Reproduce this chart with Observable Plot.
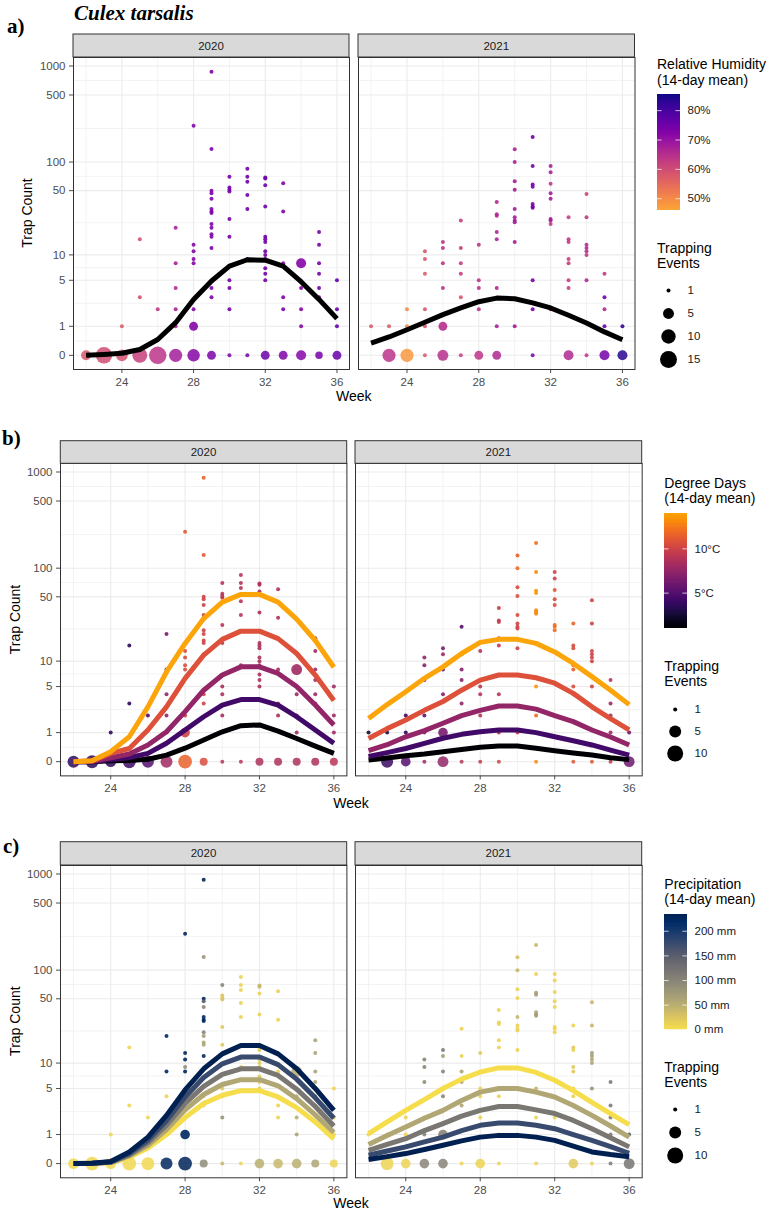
<!DOCTYPE html>
<html><head><meta charset="utf-8">
<script src="https://cdn.jsdelivr.net/npm/d3@7"></script>
<script src="https://cdn.jsdelivr.net/npm/@observablehq/plot@0.6"></script>
<style>
body{margin:0;background:#fff;}
#root{position:relative;width:771px;height:1211px;overflow:hidden;background:#fff;}
#root > svg, #root > figure{position:absolute;margin:0;}
</style></head>
<body><div id="root"></div>
<script>
const FONT = '"Liberation Sans", Arial, Helvetica, sans-serif';
const SERIF = '"Liberation Serif", "Times New Roman", serif';

// ---------- axis ticks ----------
const yTicks = [0, 1, 5, 10, 50, 100, 500, 1000];
const yMinor = [0.41, 2.46, 7.1, 22.7, 70.8, 224, 707];
const xTicks = [24, 28, 32, 36];
const xMinor = [22, 26, 30, 34];
const years = ["2020", "2021"];

// ---------- observations: [week, count, trapping events, RH %, degree days °C, precip mm] ----------
const pts2020 = [
 [24,1,1,57,3.5,5],
 [25,15,1,59,3.5,8],[25,3,1,59,3.5,8],
 [26,2,1,63,4.5,8],
 [27,20,1,67,6.5,220],[27,8,1,67,7,220],[27,4,1,66,7.5,10],[27,2,1,67,7.5,10],[27,1,1,66,7.5,10],
 [28,240,1,72,11,225],[28,13,1,72,10.5,225],[28,11,1,72,10.5,225],[28,9,1,72,10.5,90],[28,8,1,72,10.5,225],[28,2,1,72,10,10],[28,1,3,72,10,225],
 [29,873,1,73,11.5,230],[29,137,1,73,11,80],[29,50,1,73,10,230],[29,47,1,73,10,150],[29,41,1,73,10,100],[29,32,1,73,10,220],[29,30,1,73,10,220],[29,29,1,73,10,220],[29,22,1,73,10,100],[29,20,1,73,10,70],[29,17,1,73,10,60],[29,16,1,73,10,60],[29,12,1,73,10,220],[29,4,1,73,10,10],[29,3,1,73,10,10],
 [30,70,1,74,9,100],[30,54,1,74,9,25],[30,51,1,74,9,25],[30,49,1,74,9,25],[30,25,1,74,9,20],[30,16,1,74,9,20],[30,5,1,74,8.5,20],[30,4,1,74,8.5,20],[30,2,1,74,8.5,80],
 [31,85,1,75,9,10],[31,70,1,75,9,10],[31,62,1,75,9,10],[31,45,1,75,9,10],[31,32,1,75,9,10],[31,9,1,75,9,10],
 [32,69,1,75,8.5,40],[32,67,1,75,8.5,40],[32,57,1,75,8.5,10],[32,34,1,75,8.5,10],[32,16,1,75,8.5,20],[32,15,1,75,8.5,20],[32,14,1,75,8.5,20],[32,11,1,75,8.5,20],[32,10,1,75,8.5,20],[32,9,1,75,8.5,20],[32,7,1,75,8.5,20],[32,6,1,75,8.5,20],[32,5,1,75,8.5,20],
 [33,60,1,73,8.5,10],[33,30,1,73,8.5,10],[33,8,1,73,8.5,10],[33,3,1,73,8.5,10],[33,2,1,73,8.5,10],
 [34,8,4,72,8,50],[34,4,1,72,8,50],[34,2,1,72,8,50],[34,1,1,72,8,60],
 [35,18,1,74,8,60],[35,13,1,74,8,60],[35,8,1,74,8,60],[35,6,1,74,8,60],[35,4,1,74,8,60],[35,3,1,74,8,60],
 [36,5,1,76,8,10],[36,2,1,76,8,10],[36,1,1,76,8,10]
];
const pts2021 = [
 [22,1,1,57,2.5,8],
 [23,1,1,57,3,5],
 [24,2,1,50,4,10],[24,1,1,50,3.5,10],
 [25,11,1,58,7.5,100],[25,9,1,58,7,100],[25,6,1,57,7.5,90],[25,2,1,58,5.5,20],[25,1,1,58,7,100],
 [26,14,1,64,6.5,110],[26,12,1,64,8,70],[26,8,1,64,6,100],[26,4,1,64,7,100],[26,1,3,65,6.5,100],
 [27,24,1,62,5,10],[27,12,1,62,5.5,10],[27,8,1,62,7,60],[27,6,1,62,7,60],[27,3,1,58,7.5,60],
 [28,13,1,64,9,20],[28,5,1,64,9,10],[28,4,1,64,9,10],[28,2,1,64,9,10],
 [29,38,1,66,9.5,10],[29,28,1,66,9.5,10],[29,27,1,66,9.5,10],[29,18,1,66,9.5,10],[29,15,1,66,9.5,10],[29,4,1,66,9,10],[29,1,1,67,9,10],
 [30,136,1,67,11.5,30],[30,100,1,67,12,40],[30,63,1,68,10.5,10],[30,51,1,68,10.5,10],[30,32,1,68,10.5,40],[30,26,1,68,10,10],[30,24,1,68,10,10],[30,23,1,68,10,10],[30,14,1,68,10,10],[30,1,1,68,10,10],
 [31,183,1,75,12,40],[31,91,1,74,13,10],[31,58,1,74,13.5,70],[31,55,1,74,13.5,70],[31,36,1,74,13,60],[31,34,1,74,13,70],[31,33,1,74,13,70],[31,5,1,74,13.5,40],[31,2,1,74,12,10],
 [32,91,1,67,10,10],[32,78,1,67,10,10],[32,59,1,63,11,10],[32,47,1,68,10.5,10],[32,41,1,68,10.5,10],[32,25,1,68,12,10],[32,24,1,68,12,10],[32,22,1,63,12,10],[32,2,1,63,10,10],
 [33,26,1,62,11.5,10],[33,15,1,63,10.5,20],[33,14,1,63,10.5,10],[33,9,1,62,11.5,20],[33,8,1,62,11.5,20],[33,5,1,62,10.5,10],[33,4,1,62,11,10],
 [34,46,1,61,10,40],[34,26,1,63,10,40],[34,13,1,65,10,70],[34,12,1,66,10,70],[34,11,1,65,10,60],[34,10,1,63,10,60],[34,5,1,66,10,80],
 [35,6,1,63,9,110],[35,3,1,74,8,110],[35,2,1,66,8,110],[35,1,1,75,8,110],
 [36,1,1,82,6,150]
];

// ---------- zero-count rows (differ per panel) ----------
const zeroWeeks2020 = [22,23,24,25,26,27,28,29,30,31,32,33,34,35,36];
const zeroA2020n  = [4,14,6,11,16,8,7,3,1,1,3,3,4,2,3];
const zeroA2020rh = [58,60,59,62,64,68,72,73,74,75,75,73,72,74,76];
const zeroB2020n  = [5,6,4,6,5,5,7,2,1,1,2,2,2,2,2];
const zeroB2020dd = [3.5,3.5,3.5,4,5,8,11.5,10.5,9,9,8.5,8.5,8.5,8.5,9];
const zeroC2020n  = [4,7,4,7,6,5,7,2,1,1,3,3,3,2,2];
const zeroC2020pr = [5,5,5,5,5,225,230,90,40,10,50,40,50,60,10];
const zeroWeeks2021 = [23,24,25,26,27,28,29,31,33,34,35,36];
const zeroA2021n  = [8,8,1,5,1,3,3,1,4,1,4,4];
const zeroA2021rh = [64,48,58,65,62,64,66,74,66,64,74,83];
const zeroB2021n  = [5,3,1,4,1,1,1,1,1,1,1,4];
const zeroB2021dd = [4,5,8,7.5,9,9.5,10,13,11,11,9.5,6];
const zeroC2021n  = [6,3,3,3,1,3,1,1,3,1,1,4];
const zeroC2021pr = [10,10,100,100,10,10,10,10,20,10,110,120];

// ---------- fitted curves ----------
const fitWeeks = [22,23,24,25,26,27,28,29,30,31,32,33,34,35,36];
const fitA2020 = [0,0.02,0.05,0.15,0.46,1.18,2.8,4.9,7.4,8.8,8.7,7.4,4.8,2.8,1.4];
const fitA2021 = [0.34,0.55,0.84,1.2,1.64,2.1,2.6,2.92,2.86,2.5,2.1,1.6,1.16,0.75,0.45];
const levelsB = [1, 4.25, 7.5, 10.75, 14];
const fitB2020 = [
 [0,0,0.02,0.03,0.06,0.17,0.38,0.68,1.04,1.36,1.4,1.07,0.74,0.45,0.22],
 [0,0,0.05,0.1,0.22,0.55,1.13,1.92,2.86,3.4,3.4,2.86,1.92,1.13,0.55],
 [0,0.01,0.1,0.2,0.49,1.04,2.3,4.5,6.9,8.6,8.6,7.2,5.0,2.86,1.4],
 [0,0.02,0.22,0.37,1.13,2.7,6.3,11.7,17.5,21.5,21.5,17.8,12.2,6.9,3.3],
 [0,0.02,0.27,0.81,2.7,7.5,15.8,29.4,44,53,53,44,29,17,8.5]
];
const fitB2021 = [
 [0.04,0.09,0.15,0.2,0.27,0.34,0.41,0.45,0.45,0.38,0.3,0.23,0.17,0.1,0.05],
 [0.13,0.24,0.37,0.55,0.75,0.92,1.04,1.13,1.13,1.0,0.81,0.65,0.49,0.32,0.17],
 [0.3,0.5,0.81,1.1,1.5,2.0,2.4,2.77,2.77,2.5,2.0,1.6,1.13,0.8,0.49],
 [0.74,1.2,1.7,2.4,3.2,4.5,6.0,6.9,6.9,6.4,5.5,4.1,2.7,1.8,1.13],
 [1.8,2.9,4.3,6.3,8.6,12.2,16.2,17.5,17.5,15.8,12.7,9.4,6.6,4.5,2.9]
];
const levelsC = [0, 58.5, 117, 175.5, 234];
const fitC2020 = [
 [0,0,0.02,0.16,0.45,1.0,2.0,3.2,4.1,4.7,4.7,3.9,2.8,1.7,0.8],
 [0,0.01,0.03,0.2,0.55,1.25,2.6,4.2,5.6,6.4,6.4,5.4,3.7,2.2,1.1],
 [0,0.01,0.03,0.23,0.65,1.5,3.2,5.3,7.4,8.6,8.6,7.2,4.9,2.9,1.45],
 [0,0.01,0.04,0.27,0.75,1.8,3.9,6.8,9.8,11.7,11.7,9.6,6.5,3.8,1.95],
 [0,0.01,0.05,0.32,0.88,2.16,4.8,8.6,12.7,15.7,15.7,12.7,8.6,5.0,2.56]
];
const fitC2021 = [
 [1.04,1.7,2.56,3.6,5.0,6.5,7.9,8.8,8.8,7.8,6.3,4.7,3.3,2.3,1.53],
 [0.58,0.95,1.39,1.95,2.56,3.5,4.5,5.0,5.0,4.5,3.9,3.0,2.16,1.45,0.88],
 [0.37,0.58,0.81,1.2,1.6,2.1,2.56,2.9,2.9,2.6,2.3,1.8,1.3,0.85,0.49],
 [0.22,0.35,0.49,0.68,0.88,1.2,1.49,1.63,1.63,1.5,1.3,1.0,0.74,0.5,0.28],
 [0.1,0.18,0.27,0.4,0.55,0.72,0.88,0.96,0.96,0.88,0.74,0.52,0.32,0.24,0.18]
];

// ---------- legends ----------
const rhBreaks = [50, 60, 70, 80];
const ddBreaks = [5, 10];
const prBreaks = [0, 50, 100, 150, 200];
const sizeBreaksA = [1, 5, 10, 15];
const sizeBreaksBC = [1, 5, 10];

// ---------- scales ----------
const allCounts = pts2020.concat(pts2021).map(d => d[1]);
const tMax = Math.log10(1 + d3.max(allCounts));
const yDom = [-(Math.pow(10, 0.05 * tMax) - 1), Math.pow(10, 1.05 * tMax) - 1];
const xDom = [22 - 0.7, 36 + 0.7];

const colorA = {type: "linear", domain: [46, 85.5], interpolate: t => d3.interpolatePlasma(0.8 * (1 - t))};
const colorB = {type: "linear", domain: [1, 14], interpolate: t => d3.interpolateInferno(0.8 * t)};
const colorC = {type: "linear", domain: [0, 234], interpolate: t => d3.interpolateCividis(0.95 * (1 - t))};
const rA = {type: "sqrt", domain: [0, 15], range: [2, 8.7]};
const rBC = {type: "sqrt", domain: [0, 11], range: [2, 8.6]};

function zeroRows(weeks, n, v) { return weeks.map((w, i) => ({week: w, count: 0, n: n[i], v: v[i]})); }
function ptRows(pts, col) { return pts.map(p => ({week: p[0], count: p[1], n: p[2], v: p[col]})); }
function fitRows(vals, level) { return fitWeeks.map((w, i) => ({week: w, value: vals[i], level})); }

const panels = [
 {label: "a)", labelX: 7, labelY: 33, stripTop: 34, top: 57, bottom: 369,
  facets: [[73, 349], [358, 634.5]], ytitleX: 27, weekY: 396,
  color: colorA, r: rA, col: 3,
  zeros: [zeroRows(zeroWeeks2020, zeroA2020n, zeroA2020rh), zeroRows(zeroWeeks2021, zeroA2021n, zeroA2021rh)],
  fits: [fitRows(fitA2020, null), fitRows(fitA2021, null)], black: true,
  leg: {x: 657, t1: 64, t2: 80, barTop: 94, barBot: 210, lo: 46, hi: 85.5, breaks: rhBreaks, fmt: d => d + "%",
        title: ["Relative Humidity", "(14-day mean)"], s1: 248, s2: 263, dotX: 668, sizeTop: 289, sizeBot: 359, sizeBreaks: sizeBreaksA}},
 {label: "b)", labelX: 2, labelY: 444.5, stripTop: 440.7, top: 463.3, bottom: 775.7,
  facets: [[60.3, 346.7], [355, 641.7]], ytitleX: 15, weekY: 803,
  color: colorB, r: rBC, col: 4,
  zeros: [zeroRows(zeroWeeks2020, zeroB2020n, zeroB2020dd), zeroRows(zeroWeeks2021, zeroB2021n, zeroB2021dd)],
  fits: [fitB2020.flatMap((a, i) => fitRows(a, levelsB[i])), fitB2021.flatMap((a, i) => fitRows(a, levelsB[i]))],
  leg: {x: 664.3, t1: 482.7, t2: 498, barTop: 512.7, barBot: 627.7, lo: 1, hi: 14, breaks: ddBreaks, fmt: d => d + "°C",
        title: ["Degree Days", "(14-day mean)"], s1: 666, s2: 681, dotX: 675, sizeTop: 707.7, sizeBot: 753.3, sizeBreaks: sizeBreaksBC}},
 {label: "c)", labelX: 3, labelY: 852.5, stripTop: 841.7, top: 865, bottom: 1177.3,
  facets: [[60.3, 346.7], [355, 641.7]], ytitleX: 15, weekY: 1203,
  color: colorC, r: rBC, col: 5,
  zeros: [zeroRows(zeroWeeks2020, zeroC2020n, zeroC2020pr), zeroRows(zeroWeeks2021, zeroC2021n, zeroC2021pr)],
  fits: [fitC2020.flatMap((a, i) => fitRows(a, levelsC[i])), fitC2021.flatMap((a, i) => fitRows(a, levelsC[i]))],
  leg: {x: 664.3, t1: 884, t2: 899.3, barTop: 914, barBot: 1029.3, lo: 0, hi: 234, breaks: prBreaks, fmt: d => d + " mm",
        title: ["Precipitation", "(14-day mean)"], s1: 1067.3, s2: 1082.3, dotX: 675, sizeTop: 1108.7, sizeBot: 1154.7, sizeBreaks: sizeBreaksBC}}
];

const root = document.getElementById("root");
function place(el, left, top) { el.style.left = left + "px"; el.style.top = top + "px"; root.appendChild(el); }

const ptsByYear = [pts2020, pts2021];

panels.forEach(P => {
  P.facets.forEach(([x0, x1], fi) => {
    const showY = fi === 0;
    const ml = showY ? 50 : 1, mr = 1, mt = 1, mb = 26;
    const W = ml + (x1 - x0) + mr, H = mt + (P.bottom - P.top) + mb;
    const svg = Plot.plot({
      width: W, height: H, marginLeft: ml, marginRight: mr, marginTop: mt, marginBottom: mb,
      style: {background: "transparent", fontFamily: FONT, fontSize: "11.5px", color: "#4D4D4D", overflow: "visible"},
      x: {domain: xDom, ticks: xTicks, tickSize: 4, tickPadding: 4, label: null, tickFormat: d => String(d)},
      y: {type: "symlog", domain: yDom, ticks: yTicks, tickSize: 4, tickPadding: 4, label: null,
          tickFormat: d => String(d), axis: showY ? "left" : null},
      color: P.color,
      r: P.r,
      marks: [
        Plot.ruleX(xMinor, {stroke: "#EBEBEB", strokeWidth: 0.6}),
        Plot.ruleY(yMinor, {stroke: "#EBEBEB", strokeWidth: 0.6}),
        Plot.ruleX(xTicks, {stroke: "#EBEBEB", strokeWidth: 1.1}),
        Plot.ruleY(yTicks, {stroke: "#EBEBEB", strokeWidth: 1.1}),
        Plot.dot(P.zeros[fi], {x: "week", y: "count", r: d => d.n - 1, fill: "v", fillOpacity: 0.85, stroke: "none"}),
        Plot.dot(ptRows(ptsByYear[fi], P.col), {x: "week", y: "count", r: d => d.n - 1, fill: "v", fillOpacity: 0.9, stroke: "none"}),
        Plot.line(P.fits[fi], {x: "week", y: "value", z: "level",
          stroke: P.black ? "black" : "level", strokeWidth: 5, strokeLinecap: "butt", strokeLinejoin: "round"}),
        Plot.frame({stroke: "#333333", strokeWidth: 1})
      ]
    });
    place(svg, x0 - ml, P.top - mt);
  });

  // colour bar
  const L = P.leg;
  const bh = L.barBot - L.barTop;
  const N = 80, step = (L.hi - L.lo) / N;
  const slices = d3.range(N).map(i => ({v0: L.lo + step * i, v1: L.lo + step * (i + 1)}));
  const cb = Plot.plot({
    width: 110, height: bh, margin: 0,
    style: {background: "transparent", fontFamily: FONT, overflow: "visible"},
    x: {domain: [0, 110], range: [0, 110], axis: null},
    y: {domain: [L.lo, L.hi], range: [bh, 0], axis: null},
    color: P.color,
    marks: [
      Plot.rect(slices, {x1: 0, x2: 23, y1: "v0", y2: d => Math.min(L.hi, d.v1 + step * 0.6), fill: d => (d.v0 + d.v1) / 2}),
      Plot.ruleY(L.breaks, {x1: 0, x2: 4.6, stroke: "white", strokeWidth: 0.9, strokeOpacity: 0.8}),
      Plot.ruleY(L.breaks, {x1: 18.4, x2: 23, stroke: "white", strokeWidth: 0.9, strokeOpacity: 0.8}),
      Plot.text(L.breaks, {x: 30, y: d => d, text: L.fmt, textAnchor: "start", fontSize: 11.5, fill: "#1A1A1A"})
    ]
  });
  place(cb, L.x, L.barTop);

  // size legend
  const sh = L.sizeBot - L.sizeTop + 24;
  const sl = Plot.plot({
    width: 70, height: sh, margin: 0,
    style: {background: "transparent", fontFamily: FONT, overflow: "visible"},
    x: {domain: [0, 70], range: [0, 70], axis: null},
    y: {type: "point", domain: L.sizeBreaks, range: [12, sh - 12], padding: 0, axis: null},
    r: P.r,
    marks: [
      Plot.dot(L.sizeBreaks, {x: L.dotX - L.x, y: d => d, r: d => d - 1, fill: "black", stroke: "none"}),
      Plot.text(L.sizeBreaks, {x: 30, y: d => d, text: d => String(d), textAnchor: "start", fontSize: 11.5, fill: "#1A1A1A"})
    ]
  });
  place(sl, L.x, L.sizeTop - 12);
});

// ---------- overlay: strips, titles, labels ----------
const ov = d3.create("svg").attr("width", 771).attr("height", 1211)
  .style("left", "0px").style("top", "0px").style("pointer-events", "none");
ov.append("text").attr("x", 74).attr("y", 20).attr("font-family", SERIF).attr("font-size", 21)
  .attr("font-weight", "bold").attr("font-style", "italic").attr("fill", "#000").text("Culex tarsalis");
panels.forEach(P => {
  ov.append("text").attr("x", P.labelX).attr("y", P.labelY).attr("font-family", SERIF).attr("font-size", 21)
    .attr("font-weight", "bold").attr("fill", "#000").text(P.label);
  P.facets.forEach(([x0, x1], fi) => {
    ov.append("rect").attr("x", x0).attr("y", P.stripTop).attr("width", x1 - x0).attr("height", P.top - P.stripTop)
      .attr("fill", "#D9D9D9").attr("stroke", "#333333").attr("stroke-width", 1);
    ov.append("text").attr("x", (x0 + x1) / 2).attr("y", (P.stripTop + P.top) / 2).attr("dy", "0.35em")
      .attr("text-anchor", "middle").attr("font-family", FONT).attr("font-size", 11.5).attr("fill", "#1A1A1A").text(years[fi]);
  });
  const cx = (P.facets[0][0] + P.facets[1][1]) / 2;
  ov.append("text").attr("x", cx).attr("y", P.weekY).attr("dy", "0.35em").attr("text-anchor", "middle")
    .attr("font-family", FONT).attr("font-size", 14).attr("fill", "#000").text("Week");
  const cy = (P.top + P.bottom) / 2;
  ov.append("text").attr("transform", `translate(${P.ytitleX},${cy}) rotate(-90)`).attr("dy", "0.35em")
    .attr("text-anchor", "middle").attr("font-family", FONT).attr("font-size", 14).attr("fill", "#000").text("Trap Count");
  const L = P.leg;
  [[L.title[0], L.t1], [L.title[1], L.t2], ["Trapping", L.s1], ["Events", L.s2]].forEach(([t, y]) => {
    ov.append("text").attr("x", L.x).attr("y", y).attr("dy", "0.35em").attr("font-family", FONT)
      .attr("font-size", 14).attr("fill", "#000").text(t);
  });
});
place(ov.node(), 0, 0);
</script>
</body></html>
